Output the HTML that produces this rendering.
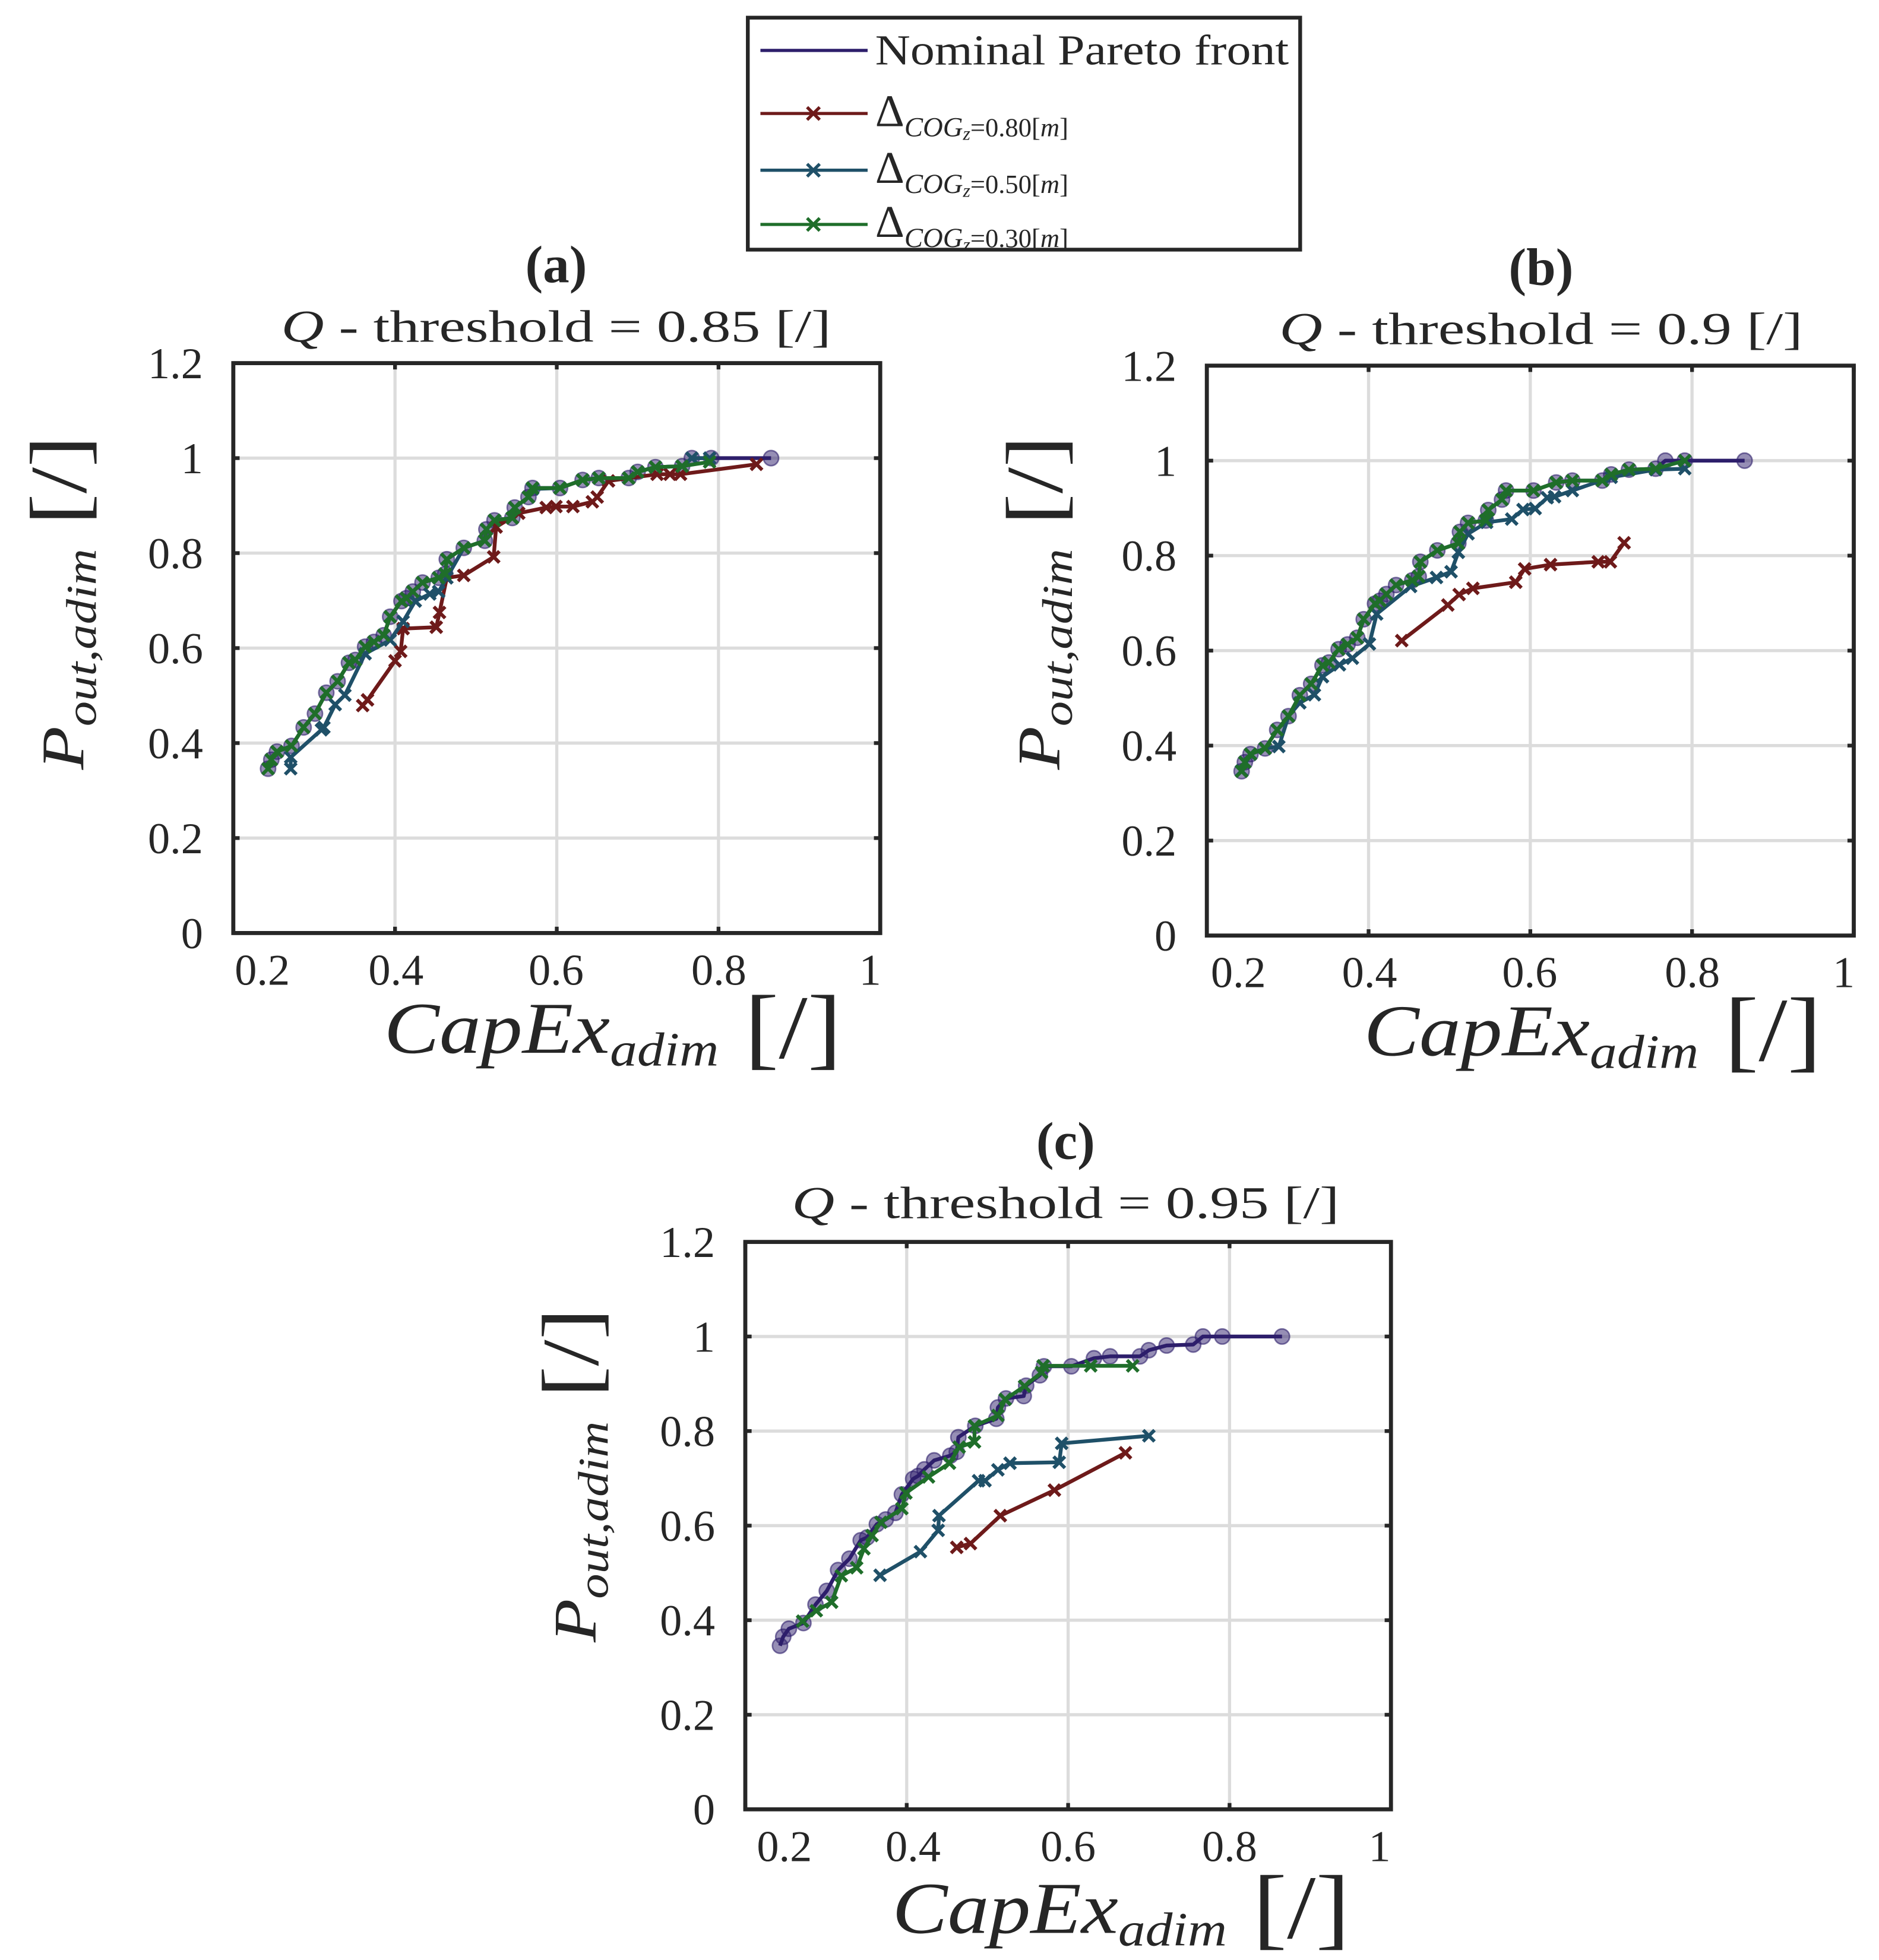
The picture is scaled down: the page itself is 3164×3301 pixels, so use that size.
<!DOCTYPE html>
<html><head><meta charset="utf-8"><style>
html,body{margin:0;padding:0;background:#fff}
svg{display:block}
text{font-family:"Liberation Serif","DejaVu Serif",serif;fill:#262626}
</style></head><body>
<svg id="fig" xmlns="http://www.w3.org/2000/svg" width="3164" height="3301" viewBox="0 0 1490 1554.5">
<g id="legend">
<rect x="593" y="14" width="438" height="184" fill="#fff" stroke="#262626" stroke-width="3"/>
<g><line x1="603" y1="40" x2="688" y2="40" stroke="#2d1e6b" stroke-width="2.5"/><text x="694" y="51" font-size="34" textLength="328" lengthAdjust="spacingAndGlyphs">Nominal Pareto front</text></g>
<g><line x1="603" y1="90" x2="688" y2="90" stroke="#6e1a1a" stroke-width="2.5"/><path d="M640,85L650,95M640,95L650,85" stroke="#6e1a1a" stroke-width="2.5"/><text x="694" y="100" font-size="36">Δ<tspan font-size="22" font-style="italic" dy="8">COG</tspan><tspan font-size="15" font-style="italic" dy="3">z</tspan><tspan font-size="21" dy="-3">=0.80[</tspan><tspan font-size="21" font-style="italic">m</tspan><tspan font-size="21">]</tspan></text></g>
<g><line x1="603" y1="135" x2="688" y2="135" stroke="#1f5068" stroke-width="2.5"/><path d="M640,130L650,140M640,140L650,130" stroke="#1f5068" stroke-width="2.5"/><text x="694" y="145" font-size="36">Δ<tspan font-size="22" font-style="italic" dy="8">COG</tspan><tspan font-size="15" font-style="italic" dy="3">z</tspan><tspan font-size="21" dy="-3">=0.50[</tspan><tspan font-size="21" font-style="italic">m</tspan><tspan font-size="21">]</tspan></text></g>
<g><line x1="603" y1="178" x2="688" y2="178" stroke="#1f6e2a" stroke-width="2.5"/><path d="M640,173L650,183M640,183L650,173" stroke="#1f6e2a" stroke-width="2.5"/><text x="694" y="188" font-size="36">Δ<tspan font-size="22" font-style="italic" dy="8">COG</tspan><tspan font-size="15" font-style="italic" dy="3">z</tspan><tspan font-size="21" dy="-3">=0.30[</tspan><tspan font-size="21" font-style="italic">m</tspan><tspan font-size="21">]</tspan></text></g>
</g>
</svg>
<script>
// ---- data ----
const xTicks = [0.2, 0.4, 0.6, 0.8, 1];
const xTickLabels = ["0.2", "0.4", "0.6", "0.8", "1"];
const yTicks = [0, 0.2, 0.4, 0.6, 0.8, 1, 1.2];
const yTickLabels = ["0", "0.2", "0.4", "0.6", "0.8", "1", "1.2"];
const panelLetters = ["(a)", "(b)", "(c)"];
const thresholds = ["0.85", "0.9", "0.95"];

const nomX = [0.243,0.247,0.254,0.272,0.287,0.301,0.315,0.329,0.343,0.351,0.363,0.374,0.386,0.394,0.408,0.414,0.422,0.434,0.454,0.462,0.464,0.485,0.511,0.513,0.523,0.545,0.548,0.565,0.570,0.604,0.632,0.652,0.689,0.700,0.722,0.755,0.767,0.791,0.865];
const nomY = [0.346,0.365,0.382,0.394,0.433,0.462,0.506,0.530,0.569,0.575,0.603,0.613,0.627,0.666,0.699,0.705,0.719,0.738,0.748,0.756,0.787,0.811,0.826,0.850,0.869,0.874,0.896,0.918,0.937,0.937,0.954,0.958,0.958,0.971,0.981,0.983,1.0,1.0,1.0];

const aRedX = [0.360,0.366,0.400,0.407,0.410,0.451,0.455,0.464,0.485,0.522,0.525,0.553,0.587,0.599,0.620,0.644,0.650,0.664,0.724,0.740,0.753,0.847];
const aRedY = [0.479,0.491,0.573,0.593,0.641,0.644,0.675,0.748,0.753,0.792,0.855,0.884,0.896,0.898,0.898,0.908,0.918,0.952,0.966,0.966,0.966,0.987];
const aBlueX = [0.271,0.271,0.309,0.312,0.326,0.338,0.363,0.394,0.410,0.425,0.443,0.454,0.464,0.485,0.511,0.513,0.523,0.545,0.548,0.565,0.570,0.604,0.632,0.652,0.689,0.700,0.722,0.755,0.767,0.789];
const aBlueY = [0.346,0.370,0.428,0.433,0.481,0.501,0.588,0.617,0.656,0.699,0.714,0.719,0.748,0.811,0.826,0.850,0.869,0.874,0.896,0.918,0.935,0.937,0.954,0.958,0.958,0.971,0.981,0.983,1.0,1.0];
const aGreenX = [0.243,0.247,0.254,0.272,0.287,0.301,0.315,0.329,0.343,0.351,0.363,0.374,0.386,0.394,0.408,0.414,0.422,0.434,0.454,0.462,0.464,0.485,0.511,0.513,0.523,0.545,0.548,0.565,0.570,0.604,0.632,0.652,0.689,0.700,0.722,0.755,0.789];
const aGreenY = [0.346,0.365,0.382,0.394,0.433,0.462,0.506,0.530,0.569,0.575,0.603,0.613,0.627,0.666,0.699,0.705,0.719,0.738,0.748,0.756,0.787,0.811,0.826,0.850,0.869,0.874,0.896,0.918,0.937,0.937,0.954,0.958,0.958,0.971,0.981,0.983,0.992];

const bRedX = [0.441,0.498,0.512,0.529,0.582,0.593,0.625,0.684,0.699,0.716];
const bRedY = [0.621,0.696,0.718,0.731,0.744,0.772,0.781,0.787,0.787,0.827];
const bBlueX = [0.243,0.254,0.272,0.289,0.301,0.315,0.333,0.343,0.364,0.380,0.401,0.410,0.452,0.484,0.502,0.511,0.523,0.546,0.577,0.591,0.606,0.621,0.630,0.652,0.700,0.755,0.791];
const bBlueY = [0.347,0.382,0.394,0.398,0.462,0.490,0.507,0.545,0.570,0.584,0.614,0.677,0.735,0.754,0.766,0.807,0.846,0.870,0.877,0.897,0.899,0.922,0.924,0.937,0.965,0.981,0.983];
const bGreenX = [0.243,0.247,0.254,0.272,0.287,0.301,0.315,0.329,0.343,0.351,0.363,0.374,0.386,0.394,0.408,0.414,0.422,0.434,0.454,0.462,0.464,0.485,0.511,0.513,0.523,0.545,0.548,0.565,0.570,0.604,0.632,0.652,0.689,0.700,0.722,0.755,0.791];
const bGreenY = [0.346,0.365,0.382,0.394,0.433,0.462,0.506,0.530,0.569,0.575,0.603,0.613,0.627,0.666,0.699,0.705,0.719,0.738,0.748,0.756,0.787,0.811,0.826,0.850,0.869,0.874,0.896,0.918,0.937,0.937,0.954,0.958,0.958,0.971,0.981,0.983,1.0];

const cRedX = [0.462,0.479,0.516,0.583,0.671];
const cRedY = [0.554,0.562,0.621,0.675,0.754];
const cBlueX = [0.367,0.417,0.439,0.440,0.489,0.497,0.513,0.528,0.589,0.592,0.700];
const cBlueY = [0.495,0.545,0.590,0.621,0.695,0.695,0.718,0.732,0.734,0.774,0.790];
const cGreenX = [0.271,0.288,0.307,0.319,0.338,0.347,0.357,0.368,0.394,0.399,0.427,0.453,0.465,0.484,0.484,0.513,0.522,0.546,0.567,0.569,0.628,0.680];
const cGreenY = [0.398,0.420,0.438,0.494,0.511,0.551,0.579,0.607,0.636,0.669,0.703,0.732,0.766,0.777,0.811,0.833,0.867,0.895,0.924,0.938,0.938,0.938];

// ---- drawing ----
const NS = "http://www.w3.org/2000/svg";
const svg = document.getElementById("fig");
function mk(tag, attrs, parent) {
  const e = document.createElementNS(NS, tag);
  for (const k in attrs) e.setAttribute(k, attrs[k]);
  (parent || svg).appendChild(e);
  return e;
}
const COLORS = { nom: "#2d1e6b", red: "#6e1a1a", blue: "#1f5068", green: "#1f6e2a" };

const panels = [
  { L: 185, R: 698, T: 288, B: 740, cx: 441, letterY: 224, subY: 271, subW: 436, xlabY: 835, xlabC: 486, ylabX: 66, ylabC: 478,
    xl: [208, 314, 441, 570, 690], series: [[aRedX, aRedY, "red"], [aBlueX, aBlueY, "blue"], [aGreenX, aGreenY, "green"]] },
  { L: 957, R: 1470, T: 290, B: 742, cx: 1222, letterY: 226, subY: 273, subW: 415, xlabY: 837, xlabC: 1263, ylabX: 840, ylabC: 478,
    xl: [982, 1086, 1213, 1342, 1462], series: [[bRedX, bRedY, "red"], [bBlueX, bBlueY, "blue"], [bGreenX, bGreenY, "green"]] },
  { L: 591, R: 1103, T: 985, B: 1435, cx: 845, letterY: 919, subY: 966, subW: 434, xlabY: 1533, xlabC: 889, ylabX: 472, ylabC: 1170,
    xl: [622, 724, 847, 975, 1094], series: [[cRedX, cRedY, "red"], [cBlueX, cBlueY, "blue"], [cGreenX, cGreenY, "green"]] }
];

panels.forEach((p, i) => {
  const g = mk("g", {});
  
  
  const sx = v => p.L + (v - 0.2) / 0.8 * (p.R - p.L);
  const sy = v => p.B - v / 1.2 * (p.B - p.T);
  xTicks.forEach(t => {
    const l = mk("line", { x1: sx(t), x2: sx(t), y1: p.T, y2: p.B, stroke: "#dcdcdc", "stroke-width": 2.5 }, g);
    
    
  });
  yTicks.forEach(t => {
    const l = mk("line", { x1: p.L, x2: p.R, y1: sy(t), y2: sy(t), stroke: "#dcdcdc", "stroke-width": 2.5 }, g);
    
    
  });
  const drawSeries = (xs, ys, col, circles) => {
    const sg = mk("g", {}, g);
    
    
    const pts = xs.map((x, k) => sx(x) + "," + sy(ys[k])).join(" ");
    mk("polyline", { points: pts, fill: "none", stroke: COLORS[col], "stroke-width": 3, "stroke-linejoin": "round" }, sg);
    xs.forEach((x, k) => {
      const X = sx(x), Y = sy(ys[k]);
      if (circles) {
        const c = mk("circle", { cx: X, cy: Y, r: 6, fill: "rgba(45,30,107,0.5)", stroke: "rgba(45,30,107,0.6)", "stroke-width": 1.2 }, sg);
        
        
      } else {
        const m = mk("path", { d: `M${X-4.5},${Y-4.5}L${X+4.5},${Y+4.5}M${X-4.5},${Y+4.5}L${X+4.5},${Y-4.5}`, stroke: COLORS[col], "stroke-width": 2.8 }, sg);
        
        
      }
    });
  };
  drawSeries(nomX, nomY, "nom", true);
  p.series.forEach(s => drawSeries(s[0], s[1], s[2], false));
  const box = mk("rect", { x: p.L, y: p.T, width: p.R - p.L, height: p.B - p.T, fill: "none", stroke: "#262626", "stroke-width": 3.2 }, g);
  
  
  xTicks.forEach(t => {
    mk("line", { x1: sx(t), x2: sx(t), y1: p.B, y2: p.B - 5, stroke: "#262626", "stroke-width": 3 }, g);
    mk("line", { x1: sx(t), x2: sx(t), y1: p.T, y2: p.T + 5, stroke: "#262626", "stroke-width": 3 }, g);
  });
  yTicks.forEach(t => {
    mk("line", { x1: p.L, x2: p.L + 5, y1: sy(t), y2: sy(t), stroke: "#262626", "stroke-width": 3 }, g);
    mk("line", { x1: p.R, x2: p.R - 5, y1: sy(t), y2: sy(t), stroke: "#262626", "stroke-width": 3 }, g);
  });
  xTickLabels.forEach((s, k) => {
    const t = mk("text", { x: p.xl[k], y: p.B + 41, "font-size": 35, "text-anchor": "middle" }, g);
    t.textContent = s;
    
    
  });
  yTickLabels.forEach((s, k) => {
    const t = mk("text", { x: p.L - 24, y: sy(yTicks[k]) + 12, "font-size": 35, "text-anchor": "end" }, g);
    t.textContent = s;
    
    
  });
  const lt = mk("text", { x: p.cx, y: p.letterY, "font-size": 42, "font-weight": "bold", "text-anchor": "middle" }, g);
  lt.textContent = panelLetters[i];
  
  
  const st = mk("text", { x: p.cx, y: p.subY, "font-size": 36, "text-anchor": "middle", textLength: p.subW, lengthAdjust: "spacingAndGlyphs" }, g);
  st.innerHTML = '<tspan font-style="italic">Q</tspan> - threshold = ' + thresholds[i] + ' [/]';
  
  
  const xl = mk("text", { x: p.xlabC, y: p.xlabY, "font-size": 58, "text-anchor": "middle", textLength: 363, lengthAdjust: "spacingAndGlyphs" }, g);
  xl.innerHTML = '<tspan font-style="italic">CapEx</tspan><tspan font-style="italic" font-size="38" dy="10">adim</tspan><tspan font-size="72" dy="-6"> [/]</tspan>';
  
  
  const yl = mk("text", { x: 0, y: 0, "font-size": 48, "text-anchor": "middle", textLength: 265, lengthAdjust: "spacingAndGlyphs", transform: `translate(${p.ylabX},${p.ylabC}) rotate(-90)` }, g);
  yl.innerHTML = '<tspan font-style="italic">P</tspan><tspan font-style="italic" font-size="34" dy="10">out,adim</tspan><tspan font-size="64" dy="-8">  [/]</tspan>';
  
  
});
</script>
</body></html>
